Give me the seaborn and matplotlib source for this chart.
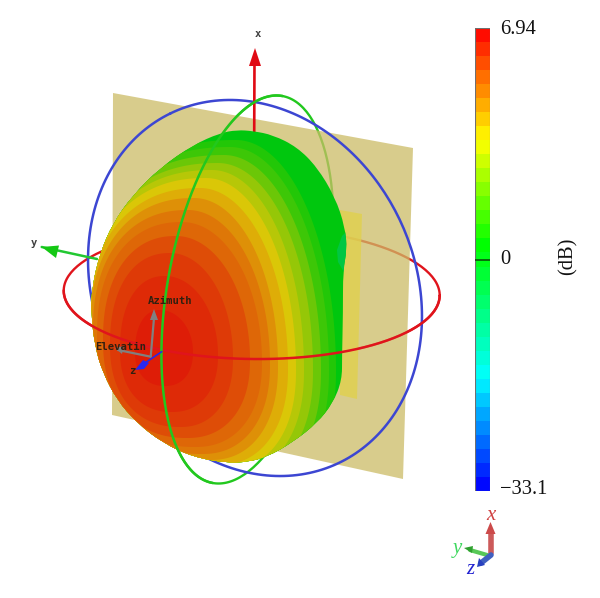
import numpy as np
import matplotlib
matplotlib.use("Agg")
import matplotlib.pyplot as plt
from matplotlib.colors import LinearSegmentedColormap, TwoSlopeNorm
from matplotlib.patches import PathPatch, Polygon
from matplotlib.path import Path
import pandas as pd
import seaborn as sns

# ---- colour bar ----
bar_levels_db = [6.73, 6.31, 5.89, 5.47, 5.05, 4.63, 4.21, 3.79, 3.37, 2.95, 2.53, 2.10, 1.68,
                 1.26, 0.84, 0.42, 0.0, -2.0, -4.0, -6.1, -8.1, -10.1, -12.1, -14.2, -16.2,
                 -18.2, -20.2, -22.3, -24.3, -26.3, -28.3, -30.4, -32.4]
bar_tick_labels = ["6.94", "0", "\u221233.1"]
bar_unit = "(dB)"

# ---- gain bands of the pattern, inner to outer (image pixels) ----
band_db     = [6.45, 6.2, 5.95, 5.6, 5.2, 4.9, 4.5, 4.0, 3.5, 3.0, 2.5, 1.9, 1.3, 0.9]
band_left   = [135, 120, 110, 103, 97, 93, 90, 87, 84, 82, 80, 78, 76, 74]
band_left_y = [352, 350, 345, 340, 335, 330, 328, 326, 324, 322, 320, 318, 316, 314]
band_top    = [310, 276, 253, 236, 222, 210, 198, 188, 178, 170, 163, 155, 147, 140]
band_top_x  = [160, 165, 170, 176, 182, 188, 194, 200, 206, 212, 218, 224, 230, 236]
band_right  = [193, 218, 233, 250, 262, 270, 278, 288, 296, 304, 313, 321, 329, 336]
band_right_y= [352, 355, 358, 360, 362, 364, 366, 368, 370, 370, 370, 370, 370, 370]
band_bottom = [386, 412, 427, 438, 447, 454, 460, 465, 469, 472, 475, 478, 480, 482]
band_bot_x  = [165, 172, 180, 187, 195, 202, 210, 218, 226, 234, 242, 250, 258, 266]
base_db = 0.3
notch_db = -3.0
notch_x = [352, 342, 337, 338, 344, 352]
notch_y = [226, 236, 250, 262, 272, 276]

outline_x = [237, 220, 193, 160, 133, 113, 100, 92, 91, 95, 103, 117, 137, 163, 193, 227, 247, 267,
             293, 317, 333, 342, 342, 343, 343, 347, 345, 335, 317, 297, 273, 253]
outline_y = [130, 133, 145, 168, 195, 223, 253, 287, 313, 347, 373, 400, 423, 443, 457, 463, 462, 457,
             442, 423, 403, 380, 357, 313, 270, 250, 227, 197, 167, 147, 135, 131]

plane_x = [113, 413, 403, 112]
plane_y = [93, 148, 479, 415]
patch_x = [340, 362, 357, 340]
patch_y = [210, 214, 399, 395]

sns.set_style("white")
plt.rcParams['font.family'] = ['Liberation Serif', 'DejaVu Sans']
W, H = 600, 598
fig = plt.figure(figsize=(W / 100, H / 100), dpi=100)
ax = fig.add_axes([0, 0, 1, 1])

nodes = [(0.0, (0, 0, 1)), (0.245, (0, 1, 1)), (0.53, (0, 1, 0)), (0.757, (1, 1, 0)), (1.0, (1, 0, 0))]
cmap = LinearSegmentedColormap.from_list("gain", nodes, N=256)
norm = TwoSlopeNorm(vmin=-33.1, vcenter=0, vmax=6.94)


def body_colour(db):
    r, g, b, _ = cmap(norm(db))
    return (r * 0.87, g * 0.78, min(b + 0.03, 1) * 0.9)


def ring(cx, cy, a, b, tilt_deg, t0=0.0, t1=2 * np.pi):
    t = np.linspace(t0, t1, 240)
    phi = np.radians(tilt_deg)
    ux, uy = np.sin(phi), -np.cos(phi)
    vx, vy = -np.cos(phi), -np.sin(phi)
    return (cx + a * np.cos(t) * ux + b * np.sin(t) * vx,
            cy + a * np.cos(t) * uy + b * np.sin(t) * vy)


def draw_line(x, y, colour, lw, z):
    frame = pd.DataFrame({"x": x, "y": y})
    sns.lineplot(data=frame, x="x", y="y", sort=False, estimator=None, color=colour,
                 linewidth=lw, zorder=z, ax=ax, legend=False)


def smooth_path(xs, ys):
    pts = np.column_stack([xs, ys])
    mids = (pts + np.roll(pts, -1, axis=0)) / 2
    verts = [mids[-1]]
    codes = [Path.MOVETO]
    for i in range(len(pts)):
        verts += [pts[i], mids[i]]
        codes += [Path.CURVE3, Path.CURVE3]
    return Path(verts, codes)


def band_shape(i, p=2.25, p_upper_right=2.0):
    e = 2 / p
    e2 = 2 / p_upper_right
    s = np.linspace(0, np.pi / 2, 60)
    c, d = np.cos(s) ** e, np.sin(s) ** e
    c2, d2 = np.cos(s) ** e2, np.sin(s) ** e2
    lx, ly = band_left[i], band_left_y[i]
    tx, ty = band_top_x[i], band_top[i]
    rx, ry = band_right[i], band_right_y[i]
    bx, by = band_bot_x[i], band_bottom[i]
    xs = np.r_[tx - (tx - lx) * c, tx + (rx - tx) * d2, bx + (rx - bx) * c, bx - (bx - lx) * d]
    ys = np.r_[ly - (ly - ty) * d, ry - (ry - ty) * c2, ry + (by - ry) * d, ly + (by - ly) * c]
    return np.column_stack([xs, ys])


# rings seen through the plane
RED = "#e0141c"
GREEN = "#22c81e"
BLUE = "#3c46d2"
red_ring = dict(cx=251.7, cy=293, a=188, b=66, tilt_deg=90.8)
green_ring = dict(cx=247.5, cy=289.5, a=196.6, b=80, tilt_deg=10.2)
blue_ring = dict(cx=255, cy=288, a=194, b=160, tilt_deg=-25.8)

draw_line(*ring(**red_ring), RED, 1.7, 2)
draw_line(*ring(**green_ring), GREEN, 1.7, 2)

ax.add_patch(Polygon(np.column_stack([plane_x, plane_y]), closed=True, facecolor=(0.80, 0.737, 0.40),
                     edgecolor="none", alpha=0.75, zorder=3))
ax.add_patch(Polygon(np.column_stack([patch_x, patch_y]), closed=True, facecolor=(0.88, 0.82, 0.30),
                     edgecolor="none", alpha=0.8, zorder=4))
draw_line(*ring(**blue_ring), BLUE, 1.8, 5)

# y axis arrow shaft and head behind the pattern
draw_line([41.7, 97], [247, 259], "#22c832", 1.8, 5)
ax.add_patch(Polygon([(41.7, 247), (59, 245.5), (56, 258)], closed=True, facecolor="#14c814", edgecolor="none", zorder=5))
# x axis arrow
draw_line([254.5, 254.2], [60, 134], "#e00a14", 1.9, 5)
ax.add_patch(Polygon([(255, 48), (261, 66), (249, 66)], closed=True, facecolor="#e00a14", edgecolor="none", zorder=5))

# pattern
outline = smooth_path(outline_x, outline_y)
body = PathPatch(outline, facecolor=body_colour(base_db), edgecolor="none", zorder=6)
ax.add_patch(body)
for i in range(len(band_db) - 1, -1, -1):
    poly = Polygon(band_shape(i), closed=True, facecolor=body_colour(band_db[i]), edgecolor="none",
                   zorder=7 + (len(band_db) - i) * 0.01)
    ax.add_patch(poly)
    poly.set_clip_path(body)
notch = Polygon(np.column_stack([notch_x, notch_y]), closed=True, facecolor=body_colour(notch_db),
                edgecolor="none", zorder=8)
ax.add_patch(notch)
notch.set_clip_path(body)

# rings in front of the pattern
rx, ry = ring(**red_ring, t0=np.pi, t1=2 * np.pi)
draw_line(rx, ry, RED, 1.8, 9)
gx, gy = ring(**green_ring, t0=0, t1=np.pi)
draw_line(gx, gy, GREEN, 1.8, 9)

# small axis triad in the pattern
draw_line([150.7, 154], [356.7, 318], "#808080", 1.6, 10)
ax.add_patch(Polygon([(154, 309), (158, 320), (150, 320)], closed=True, facecolor="#808080", edgecolor="none", zorder=10))
draw_line([150.7, 118], [356.7, 350], "#808080", 1.6, 10)
ax.add_patch(Polygon([(115, 348), (124, 346), (122, 354)], closed=True, facecolor="#808080", edgecolor="none", zorder=10))
draw_line([161.7, 139], [351.7, 367], "#2828e6", 1.2, 10)
ax.add_patch(Polygon([(135, 370), (143, 360), (149, 363), (144, 369)], closed=True, facecolor="#2828f0", edgecolor="none", zorder=10))
mono = dict(family="DejaVu Sans Mono", fontsize=7.6, fontweight="bold", zorder=11, va="center")
ax.text(148, 300.5, "Azimuth", color="#302010", **mono)
ax.text(95, 346.7, "Elevatin", color="#302010", **mono)
ax.text(129, 371, "z", color="#302010", **mono)
ax.text(257.5, 34, "x", ha="center", color="#404040", **mono)
ax.text(33.5, 243.5, "y", ha="center", color="#404040", **mono)

# lower right triad
draw_line([490.5, 490.5], [553, 532], "#cc5a5a", 4, 5)
ax.add_patch(Polygon([(490.5, 522), (495.5, 534), (485.5, 534)], closed=True, facecolor="#cc4a4a", edgecolor="none", zorder=5))
draw_line([487, 470], [555, 550], "#58c858", 3, 5)
ax.add_patch(Polygon([(464, 548), (473, 546), (472, 553)], closed=True, facecolor="#30a030", edgecolor="none", zorder=5))
draw_line([491, 481], [555, 563], "#4060c0", 4, 6)
ax.add_patch(Polygon([(477, 567), (479, 558), (485, 565)], closed=True, facecolor="#2840c0", edgecolor="none", zorder=6))
tri = dict(fontsize=15, style="italic", ha="center", va="center", family="Liberation Serif")
ax.text(491, 516, "x", color="#d04040", **tri)
ax.text(457, 549, "y", color="#40d860", **tri)
ax.text(470, 570, "z", color="#2020d0", **tri)

ax.set_xlim(0, W)
ax.set_ylim(H, 0)
ax.axis("off")

# colour bar
cax = fig.add_axes([475 / W, 1 - 491 / H, 15 / W, 463 / H])
sns.heatmap(np.array(bar_levels_db).reshape(-1, 1), cmap=cmap, norm=norm, cbar=False, ax=cax,
            xticklabels=False, yticklabels=False)
cax.axhline(16.5, color="#0a500a", lw=1.2)
cax.add_patch(plt.Rectangle((0, 0), 1, len(bar_levels_db), fill=False, edgecolor="#707070", lw=0.8))
for label, y in zip(bar_tick_labels, [29, 259, 489]):
    fig.text(500 / W, 1 - y / H, label, fontsize=14.8, color="#111111", va="center", ha="left")
fig.text(568 / W, 1 - 256 / H, bar_unit, fontsize=14.8, color="#111111", rotation=90, va="center", ha="center")

fig.savefig("out.png", dpi=100)
